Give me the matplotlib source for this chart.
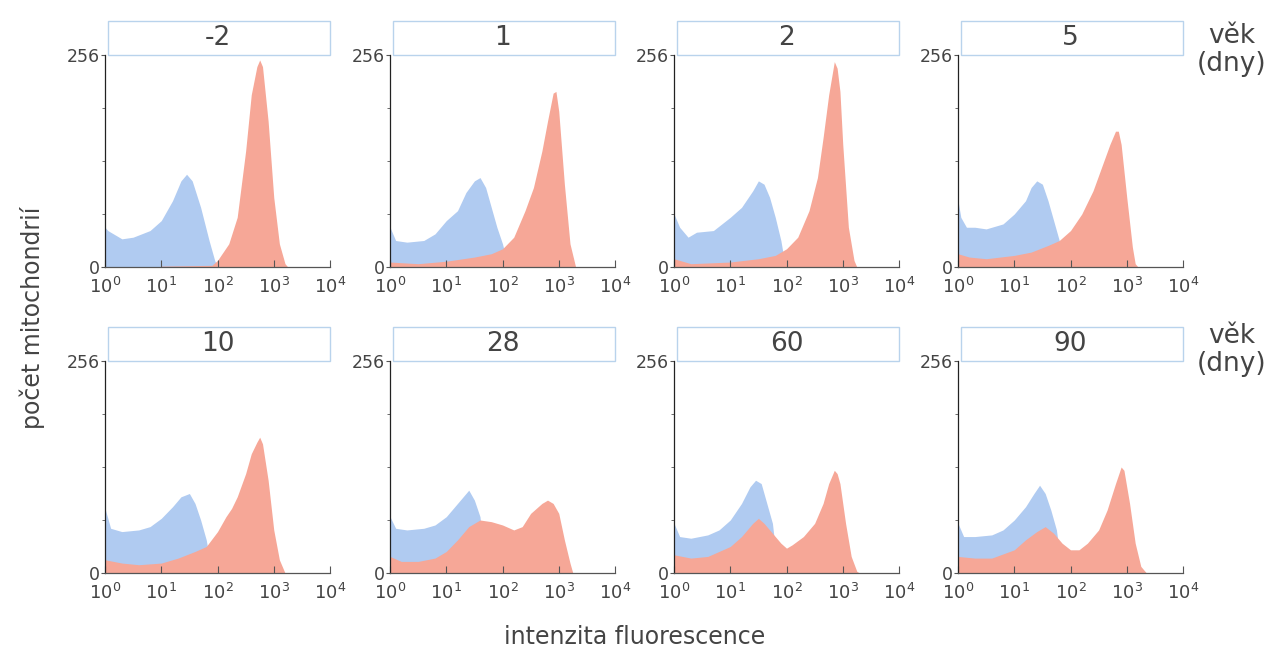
import numpy as np
import matplotlib
matplotlib.use('Agg')
import matplotlib.pyplot as plt
from matplotlib.patches import Rectangle
from matplotlib.ticker import LogLocator, NullFormatter

plt.rcParams['font.family'] = ['DejaVu Sans']
plt.rcParams['mathtext.fontset'] = 'dejavusans'

## Data (x = log10 of intensity, y = count 0..256)
vek = ['-2', '1', '2', '5', '10', '28', '60', '90']

b_m2_x = [0, 0.05, 0.3, 0.5, 0.8, 1.0, 1.2, 1.35, 1.45, 1.55, 1.7, 1.85, 1.95, 2.0]
b_m2_y = [48, 44, 34, 36, 44, 56, 80, 104, 112, 104, 72, 32, 8, 0]
r_m2_x = [1.0, 1.9, 2.0, 2.2, 2.35, 2.5, 2.6, 2.7, 2.75, 2.8, 2.9, 3.0, 3.1, 3.2, 3.25]
r_m2_y = [1, 2, 8, 28, 60, 140, 208, 242, 250, 242, 176, 84, 28, 4, 0]

b_1_x = [0, 0.1, 0.3, 0.6, 0.8, 1.0, 1.2, 1.35, 1.5, 1.6, 1.7, 1.8, 1.9, 2.0, 2.1]
b_1_y = [48, 32, 30, 32, 40, 56, 68, 90, 104, 108, 96, 72, 48, 28, 0]
r_1_x = [0, 0.5, 1.0, 1.5, 1.8, 2.0, 2.2, 2.4, 2.55, 2.7, 2.8, 2.9, 2.95, 3.0, 3.1, 3.2, 3.3]
r_1_y = [6, 4, 7, 12, 16, 22, 36, 68, 96, 140, 176, 210, 212, 188, 100, 28, 0]

b_2_x = [0, 0.1, 0.25, 0.4, 0.7, 1.0, 1.2, 1.4, 1.5, 1.6, 1.7, 1.8, 1.9, 1.95, 2.0]
b_2_y = [64, 48, 36, 42, 44, 60, 72, 92, 104, 100, 84, 60, 32, 12, 0]
r_2_x = [0, 0.3, 1.0, 1.5, 1.8, 2.0, 2.2, 2.4, 2.55, 2.65, 2.75, 2.85, 2.9, 2.95, 3.0, 3.1, 3.2, 3.25]
r_2_y = [10, 4, 6, 10, 14, 22, 36, 68, 108, 156, 208, 248, 240, 212, 148, 48, 8, 0]

b_5_x = [0, 0.05, 0.15, 0.3, 0.5, 0.8, 1.0, 1.2, 1.3, 1.4, 1.5, 1.6, 1.7, 1.8, 1.85]
b_5_y = [80, 60, 48, 48, 46, 52, 64, 80, 96, 104, 100, 80, 56, 32, 0]
r_5_x = [0, 0.2, 0.5, 1.0, 1.3, 1.6, 1.8, 2.0, 2.2, 2.4, 2.55, 2.7, 2.8, 2.85, 2.9, 3.0, 3.1, 3.15, 3.2]
r_5_y = [16, 12, 10, 14, 18, 26, 32, 44, 64, 92, 120, 148, 164, 164, 148, 84, 24, 4, 0]

b_10_x = [0, 0.1, 0.3, 0.6, 0.8, 1.0, 1.2, 1.35, 1.5, 1.6, 1.7, 1.8, 1.9]
b_10_y = [78, 54, 50, 52, 56, 66, 80, 92, 96, 84, 64, 40, 0]
r_10_x = [0, 0.3, 0.6, 1.0, 1.3, 1.6, 1.8, 2.0, 2.15, 2.25, 2.35, 2.5, 2.6, 2.7, 2.75, 2.8, 2.9, 3.0, 3.1, 3.2]
r_10_y = [16, 12, 10, 12, 18, 26, 32, 50, 68, 78, 92, 120, 144, 158, 164, 156, 112, 52, 16, 0]

b_28_x = [0, 0.1, 0.3, 0.6, 0.8, 1.0, 1.15, 1.3, 1.4, 1.5, 1.6, 1.7]
b_28_y = [68, 54, 52, 54, 58, 68, 80, 92, 100, 88, 68, 0]
r_28_x = [0, 0.2, 0.5, 0.8, 1.0, 1.2, 1.4, 1.6, 1.8, 2.0, 2.2, 2.35, 2.5, 2.7, 2.8, 2.9, 3.0, 3.1, 3.2, 3.25]
r_28_y = [20, 14, 14, 18, 26, 40, 56, 64, 62, 58, 52, 56, 72, 84, 88, 84, 72, 40, 12, 0]

b_60_x = [0, 0.1, 0.3, 0.6, 0.8, 1.0, 1.2, 1.35, 1.45, 1.55, 1.65, 1.75, 1.85]
b_60_y = [60, 44, 42, 46, 52, 64, 84, 104, 112, 108, 84, 60, 0]
r_60_x = [0, 0.3, 0.6, 1.0, 1.2, 1.4, 1.5, 1.6, 1.75, 1.9, 2.0, 2.1, 2.3, 2.5, 2.65, 2.75, 2.85, 2.9, 2.95, 3.05, 3.15, 3.25, 3.3]
r_60_y = [22, 18, 20, 32, 44, 60, 66, 60, 48, 36, 30, 34, 44, 60, 84, 108, 124, 120, 108, 60, 20, 2, 0]

b_90_x = [0, 0.1, 0.3, 0.6, 0.8, 1.0, 1.2, 1.35, 1.45, 1.55, 1.65, 1.75, 1.85]
b_90_y = [60, 44, 44, 46, 52, 64, 80, 96, 106, 96, 76, 52, 0]
r_90_x = [0, 0.3, 0.6, 1.0, 1.2, 1.4, 1.55, 1.7, 1.85, 2.0, 2.15, 2.3, 2.5, 2.65, 2.8, 2.9, 2.95, 3.05, 3.15, 3.25, 3.35]
r_90_y = [20, 18, 18, 28, 40, 50, 56, 48, 36, 28, 28, 36, 52, 76, 108, 128, 124, 84, 36, 8, 0]

modre = [(b_m2_x, b_m2_y), (b_1_x, b_1_y), (b_2_x, b_2_y), (b_5_x, b_5_y),
         (b_10_x, b_10_y), (b_28_x, b_28_y), (b_60_x, b_60_y), (b_90_x, b_90_y)]
cervene = [(r_m2_x, r_m2_y), (r_1_x, r_1_y), (r_2_x, r_2_y), (r_5_x, r_5_y),
           (r_10_x, r_10_y), (r_28_x, r_28_y), (r_60_x, r_60_y), (r_90_x, r_90_y)]

barva_modra = '#b0cbf1'
barva_cervena = '#f6a797'
text_barva = '#444444'

fig = plt.figure(figsize=(12.77, 6.53), dpi=100)

lefts = [105, 390, 674, 958]
bottoms = [267, 573]
sirka = 225 / 1277
vyska = 212 / 653

for i, nazev in enumerate(vek):
    r, c = divmod(i, 4)
    ax = fig.add_axes([lefts[c] / 1277, 1 - bottoms[r] / 653, sirka, vyska])

    bx, by = modre[i]
    rx, ry = cervene[i]
    ax.fill_between(10 ** np.array(bx), by, 0, color=barva_modra, lw=0)
    ax.fill_between(10 ** np.array(rx), ry, 0, color=barva_cervena, lw=0)

    ax.set_xscale('log')
    ax.set_xlim(1, 1e4)
    ax.set_ylim(0, 256)
    ax.set_xticks([1, 10, 100, 1000, 10000])
    ax.set_xticklabels(['$10^{0}$', '$10^{1}$', '$10^{2}$', '$10^{3}$', '$10^{4}$'])
    ax.xaxis.set_minor_locator(LogLocator(base=10, subs=np.arange(2, 10)))
    ax.xaxis.set_minor_formatter(NullFormatter())
    ax.set_yticks([0, 256])
    ax.set_yticks([64, 128, 192], minor=True)

    ax.tick_params(axis='x', which='major', direction='in', length=5, width=0.8,
                   labelsize=13, labelcolor=text_barva, pad=7, color='#555555')
    ax.tick_params(axis='x', which='minor', direction='in', length=3, width=0.6, color='#555555')
    ax.tick_params(axis='y', which='major', direction='out', length=3, width=0.8,
                   labelsize=12.5, labelcolor=text_barva, pad=1, color='#555555')
    ax.tick_params(axis='y', which='minor', direction='out', length=2, width=0.6, color='#555555')

    for s in ['top', 'right']:
        ax.spines[s].set_visible(False)
    ax.spines['left'].set_color('#222222')
    ax.spines['bottom'].set_color('#555555')
    ax.spines['left'].set_linewidth(0.9)
    ax.spines['bottom'].set_linewidth(0.9)

    # ramecek s nazvem
    ax.add_patch(Rectangle((0.012, 1.0), 0.988, 0.16, transform=ax.transAxes,
                           fill=False, edgecolor='#b9d3ec', lw=1.0, clip_on=False))
    ax.text(0.5, 1.08, nazev, transform=ax.transAxes, ha='center', va='center',
            fontsize=19, color=text_barva)

# vek (dny)
fig.text(1232 / 1277, 1 - 50 / 653, 'věk\n(dny)', ha='center', va='center',
         fontsize=19, color=text_barva, linespacing=1.1)
fig.text(1232 / 1277, 1 - 350 / 653, 'věk\n(dny)', ha='center', va='center',
         fontsize=19, color=text_barva, linespacing=1.1)

fig.text(32 / 1277, 1 - 318 / 653, 'počet mitochondrií', rotation=90,
         ha='center', va='center', fontsize=17, color=text_barva)
fig.text(635 / 1277, 1 - 637 / 653, 'intenzita fluorescence', ha='center',
         va='center', fontsize=17, color=text_barva)

fig.savefig('out.png', dpi=100, facecolor='white')
